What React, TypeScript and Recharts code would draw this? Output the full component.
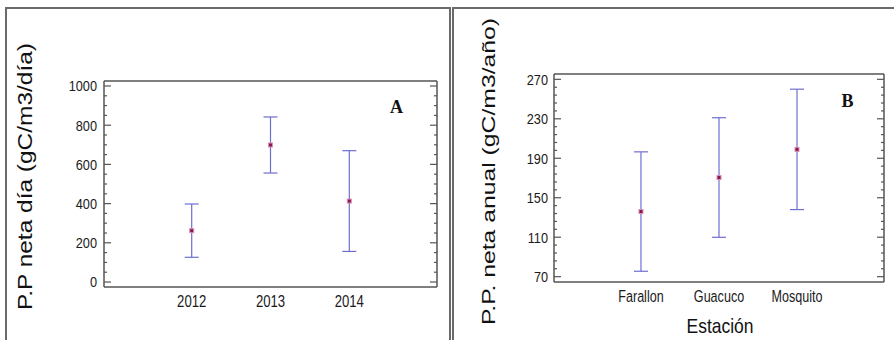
import React from "react";
import { ScatterChart, Scatter, XAxis, YAxis, ErrorBar } from "recharts";

// ---- Panel A data ----
const years = [2012, 2013, 2014];
const dailyMean = [262, 699, 413];
const dailyErr = [136, 143, 257];
const dailyMajorTicks = [0, 200, 400, 600, 800, 1000];
const dailyMinorTicks = [50, 100, 150, 250, 300, 350, 450, 500, 550, 650, 700, 750, 850, 900, 950];

// ---- Panel B data ----
const stations = ["Farallon", "Guacuco", "Mosquito"];
const annualMean = [136, 170.5, 199];
const annualErr = [60.5, 60.6, 61];
const annualMajorTicks = [70, 110, 150, 190, 230, 270];
const annualMinorTicks = [
  78, 86, 94, 102, 118, 126, 134, 142, 158, 166, 174, 182, 198, 206, 214, 222, 238, 246, 254, 262,
];

const dailyData = years.map((y, i) => ({ x: y, y: dailyMean[i], err: dailyErr[i] }));
const annualData = stations.map((s, i) => ({ x: i + 1, y: annualMean[i], err: annualErr[i], name: s }));

const FONT = "'Liberation Sans', Arial, sans-serif";
const AXIS = "#555";
const BAR = "#6e6ed2";

const makeYTick =
  (majors: number[], side: "left" | "right", showLabel: boolean, fontSize: number, sx: number, gap: number) =>
  (props: any) => {
    const { x, y, payload } = props;
    const isMajor = majors.includes(payload.value);
    const len = isMajor ? 7 : 3;
    const dir = side === "left" ? 1 : -1;
    return (
      <g>
        <line x1={x} x2={x + dir * len} y1={y} y2={y} stroke={AXIS} strokeWidth={1.2} />
        {showLabel && isMajor && (
          <text
            transform={`translate(${x - gap},${y}) scale(${sx},1)`}
            textAnchor="end"
            dy="0.36em"
            fontSize={fontSize}
            fontFamily={FONT}
            fill="#1a1a1a"
          >
            {payload.value}
          </text>
        )}
      </g>
    );
  };

const makeXTick = (fmt: (v: number) => string, fontSize: number, sx: number) => (props: any) => {
  const { x, y, payload } = props;
  return (
    <text
      transform={`translate(${x},${y}) scale(${sx},1)`}
      textAnchor="middle"
      fontSize={fontSize}
      fontFamily={FONT}
      fill="#1a1a1a"
    >
      {fmt(payload.value)}
    </text>
  );
};

const Marker = (props: any) => {
  const { cx, cy } = props;
  return <rect x={cx - 2} y={cy - 2} width={4} height={4} fill="#8b1a4a" stroke="#d890b8" strokeWidth={1} />;
};

const Nothing = () => <g />;

function PanelChart({
  data,
  width,
  height,
  margin,
  xDomain,
  yDomain,
  xTicks,
  xFmt,
  xFont,
  xSx,
  majors,
  minors,
  yFont,
  ySx,
  yGap,
}: any) {
  const yTicks = [...majors, ...minors].sort((a: number, b: number) => a - b);
  return (
    <ScatterChart width={width} height={height} margin={margin}>
      <XAxis
        xAxisId="b"
        type="number"
        dataKey="x"
        domain={xDomain}
        allowDataOverflow
        ticks={xTicks}
        interval={0}
        tickLine={false}
        tickSize={0}
        tickMargin={20}
        height={30}
        axisLine={{ stroke: AXIS, strokeWidth: 1.5 }}
        tick={makeXTick(xFmt, xFont, xSx)}
      />
      <XAxis
        xAxisId="t"
        orientation="top"
        type="number"
        dataKey="x"
        domain={xDomain}
        allowDataOverflow
        ticks={xTicks}
        height={1}
        tick={Nothing}
        tickLine={false}
        axisLine={{ stroke: AXIS, strokeWidth: 1.5 }}
      />
      <YAxis
        yAxisId="l"
        type="number"
        dataKey="y"
        domain={yDomain}
        allowDataOverflow
        ticks={yTicks}
        interval={0}
        width={40}
        tickLine={false}
        tickSize={0}
        tickMargin={0}
        axisLine={{ stroke: AXIS, strokeWidth: 1.5 }}
        tick={makeYTick(majors, "left", true, yFont, ySx, yGap)}
      />
      <YAxis
        yAxisId="r"
        orientation="right"
        type="number"
        dataKey="y"
        domain={yDomain}
        allowDataOverflow
        ticks={yTicks}
        interval={0}
        width={1}
        tickLine={false}
        tickSize={0}
        tickMargin={0}
        axisLine={{ stroke: AXIS, strokeWidth: 1.5 }}
        tick={makeYTick(majors, "right", false, yFont, ySx, yGap)}
      />
      <Scatter xAxisId="t" yAxisId="r" data={data} dataKey="y" shape={<Nothing />} isAnimationActive={false} />
      <Scatter xAxisId="b" yAxisId="l" data={data} dataKey="y" shape={<Marker />} isAnimationActive={false}>
        <ErrorBar dataKey="err" direction="y" width={7} stroke={BAR} strokeWidth={1.2} isAnimationActive={false} />
      </Scatter>
    </ScatterChart>
  );
}

export default function App() {
  return (
    <div
      style={{
        position: "absolute",
        left: 0,
        top: 0,
        width: 894,
        height: 340,
        overflow: "hidden",
        background: "#fff",
      }}
    >
      {/* panel frames */}
      <div
        style={{
          position: "absolute",
          left: 5,
          top: 7,
          width: 446,
          height: 400,
          border: "2px solid #6a6a6a",
          boxSizing: "border-box",
        }}
      />
      <div
        style={{
          position: "absolute",
          left: 452,
          top: 7,
          width: 500,
          height: 400,
          border: "2px solid #6a6a6a",
          boxSizing: "border-box",
        }}
      />
      <div style={{ position: "absolute", left: 0, top: 0 }}>
        <PanelChart
          data={dailyData}
          width={450}
          height={340}
          margin={{ top: 80, left: 64, right: 12, bottom: 23 }}
          xDomain={[2010.887, 2015.113]}
          yDomain={[-25.5, 1025.5]}
          xTicks={years}
          xFmt={(v: number) => String(v)}
          xFont={16}
          xSx={0.82}
          majors={dailyMajorTicks}
          minors={dailyMinorTicks}
          yFont={15}
          ySx={0.85}
          yGap={7}
        />
      </div>
      <div style={{ position: "absolute", left: 450, top: 0 }}>
        <PanelChart
          data={annualData}
          width={444}
          height={340}
          margin={{ top: 73, left: 64, right: 9, bottom: 28 }}
          xDomain={[-0.115, 4.115]}
          yDomain={[64.6, 275.4]}
          xTicks={[1, 2, 3]}
          xFmt={(v: number) => stations[v - 1] ?? ""}
          xFont={17}
          xSx={0.74}
          majors={annualMajorTicks}
          minors={annualMinorTicks}
          yFont={15.5}
          ySx={0.82}
          yGap={6}
        />
      </div>
      {/* text annotations */}
      <svg
        width={894}
        height={340}
        style={{ position: "absolute", left: 0, top: 0, pointerEvents: "none" }}
      >
        <text
          transform="translate(32,176.5) rotate(-90)"
          textAnchor="middle"
          fontSize={21}
          fontFamily={FONT}
          fill="#111"
          textLength={267}
          lengthAdjust="spacingAndGlyphs"
        >
          P.P neta día (gC/m3/día)
        </text>
        <text
          transform="translate(495,171.5) rotate(-90)"
          textAnchor="middle"
          fontSize={18}
          fontFamily={FONT}
          fill="#111"
          textLength={307}
          lengthAdjust="spacingAndGlyphs"
        >
          P.P. neta anual (gC/m3/año)
        </text>
        <text
          x={720}
          y={333}
          textAnchor="middle"
          fontSize={21}
          fontFamily={FONT}
          fill="#111"
          textLength={67}
          lengthAdjust="spacingAndGlyphs"
        >
          Estación
        </text>
        <text
          x={396.5}
          y={113.3}
          textAnchor="middle"
          fontSize={18}
          fontWeight="bold"
          fontFamily="'Liberation Serif', 'Times New Roman', serif"
          fill="#111"
        >
          A
        </text>
        <text
          x={847.5}
          y={107.3}
          textAnchor="middle"
          fontSize={18}
          fontWeight="bold"
          fontFamily="'Liberation Serif', 'Times New Roman', serif"
          fill="#111"
        >
          B
        </text>
      </svg>
    </div>
  );
}
